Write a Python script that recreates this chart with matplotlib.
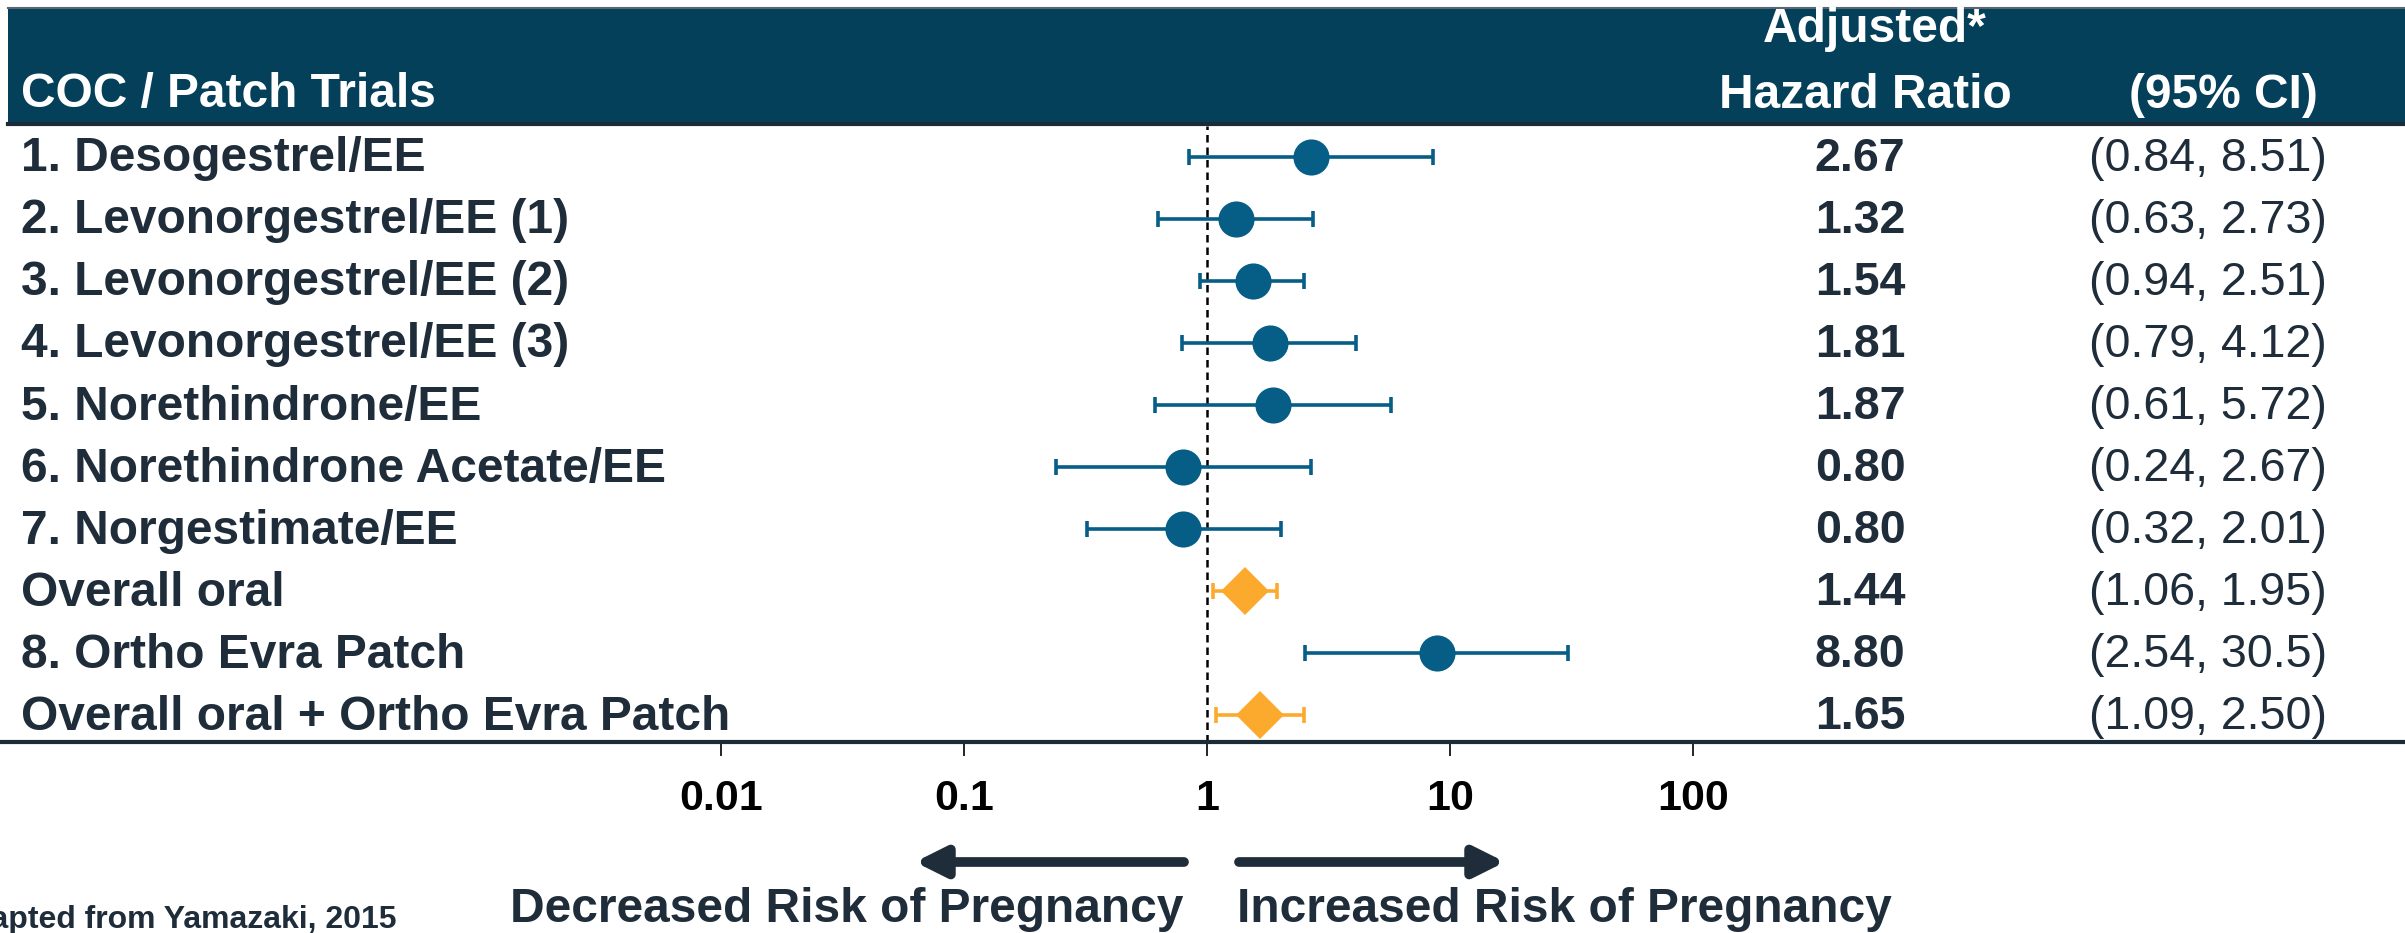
# Forest plot: adjusted hazard ratios of pregnancy, COC / patch trials
import matplotlib
matplotlib.use("Agg")
import matplotlib.pyplot as plt
from matplotlib.patches import Rectangle
from matplotlib.transforms import blended_transform_factory

plt.rcParams['font.family'] = ['Liberation Sans', 'DejaVu Sans']

# data
labels = ["1. Desogestrel/EE", "2. Levonorgestrel/EE (1)", "3. Levonorgestrel/EE (2)",
          "4. Levonorgestrel/EE (3)", "5. Norethindrone/EE", "6. Norethindrone Acetate/EE",
          "7. Norgestimate/EE", "Overall oral", "8. Ortho Evra Patch",
          "Overall oral + Ortho Evra Patch"]
hr = [2.67, 1.32, 1.54, 1.81, 1.87, 0.80, 0.80, 1.44, 8.80, 1.65]
ci_low = [0.84, 0.63, 0.94, 0.79, 0.61, 0.24, 0.32, 1.06, 2.54, 1.09]
ci_high = [8.51, 2.73, 2.51, 4.12, 5.72, 2.67, 2.01, 1.95, 30.5, 2.50]
ci_text = ["(0.84, 8.51)", "(0.63, 2.73)", "(0.94, 2.51)", "(0.79, 4.12)", "(0.61, 5.72)",
           "(0.24, 2.67)", "(0.32, 2.01)", "(1.06, 1.95)", "(2.54, 30.5)", "(1.09, 2.50)"]
is_pooled = [False] * 7 + [True, False, True]
xticks = [0.01, 0.1, 1, 10, 100]
xtick_labels = ["0.01", "0.1", "1", "10", "100"]

BLUE = "#065d85"
ORANGE = "#fbaa2e"
HEADER = "#05405a"
TEXT = "#1f2d3a"

W, H = 2405, 933
fig = plt.figure(figsize=(W / 100, H / 100), dpi=100)

# header band
fig.patches.append(Rectangle((8 / W, 1 - 125 / H), 1, 116 / H, transform=fig.transFigure,
                             facecolor=HEADER, edgecolor="none", zorder=0))
fig.add_artist(plt.Line2D([8 / W, 1], [1 - 8 / H] * 2, transform=fig.transFigure,
                          color="#5a6670", lw=1.5))
fig.add_artist(plt.Line2D([8 / W, 1], [1 - 124 / H] * 2, transform=fig.transFigure,
                          color="#1c2b38", lw=3))

ax = fig.add_axes([0, 1 - 742 / H, 1, (742 - 126) / H])
ax.set_xscale("log")
ax.set_xlim(10 ** (-1207 / 243), 10 ** ((W - 1207) / 243))
ax.set_ylim(9.43, -0.5)
ax.patch.set_alpha(0)

for i in range(len(labels)):
    col = ORANGE if is_pooled[i] else BLUE
    ax.errorbar(hr[i], i, xerr=[[hr[i] - ci_low[i]], [ci_high[i] - hr[i]]],
                fmt="none", ecolor=col, elinewidth=2.6, capsize=6, capthick=2.6, zorder=3)
    if is_pooled[i]:
        ax.plot(hr[i], i, marker="D", color=col, markersize=24, mew=0, zorder=4)
    else:
        ax.plot(hr[i], i, marker="o", color=col, markersize=26, mew=0, zorder=4)

ax.axvline(1, color="black", lw=1.8, ls=(0, (3, 2)), zorder=2)

for s in ["top", "left", "right"]:
    ax.spines[s].set_visible(False)
ax.spines["bottom"].set_color("#1c2b38")
ax.spines["bottom"].set_linewidth(3)
ax.set_yticks([])
ax.set_xticks(xticks)
ax.set_xticklabels(xtick_labels, fontsize=31, fontweight="bold", color="black")
ax.minorticks_off()
ax.tick_params(axis="x", length=10, width=1.2, color="black", pad=17)

# table text
tr = blended_transform_factory(fig.transFigure, ax.transData)
for i, lab in enumerate(labels):
    ax.text(21 / W, i + 0.03, lab, transform=tr, fontsize=34.5, fontweight="bold",
            color=TEXT, va="center", ha="left")
    ax.text(1860 / W, i + 0.03, f"{hr[i]:.2f}", transform=tr, fontsize=33.5,
            fontweight="bold", color=TEXT, va="center", ha="center")
    ax.text(2208 / W, i + 0.03, ci_text[i], transform=tr, fontsize=33.5,
            color=TEXT, va="center", ha="center")

fig.text(21 / W, 1 - 95 / H, "COC / Patch Trials", fontsize=34.5, fontweight="bold",
         color="white", va="center", ha="left")
fig.text(1875 / W, 1 - 30 / H, "Adjusted*", fontsize=34.5, fontweight="bold",
         color="white", va="center", ha="center")
fig.text(1865 / W, 1 - 95 / H, "Hazard Ratio", fontsize=34.5, fontweight="bold",
         color="white", va="center", ha="center")
fig.text(2223 / W, 1 - 95 / H, "(95% CI)", fontsize=34.5, fontweight="bold",
         color="white", va="center", ha="center")

# direction arrows and captions
arrow_kw = dict(arrowstyle="-|>,head_width=0.45,head_length=0.9", lw=7, color=TEXT,
                shrinkA=0, shrinkB=0, mutation_scale=20)
ax.annotate("", xy=(915 / W, 1 - 862 / H), xytext=(1184 / W, 1 - 862 / H),
            xycoords="figure fraction", textcoords="figure fraction", arrowprops=arrow_kw)
ax.annotate("", xy=(1505 / W, 1 - 862 / H), xytext=(1239 / W, 1 - 862 / H),
            xycoords="figure fraction", textcoords="figure fraction", arrowprops=arrow_kw)
fig.text(1183 / W, 1 - 910 / H, "Decreased Risk of Pregnancy", fontsize=34.5,
         fontweight="bold", color=TEXT, va="center", ha="right")
fig.text(1237 / W, 1 - 910 / H, "Increased Risk of Pregnancy", fontsize=34.5,
         fontweight="bold", color=TEXT, va="center", ha="left")
fig.text(396 / W, 1 - 928 / H, "Adapted from Yamazaki, 2015", fontsize=23,
         fontweight="bold", color=TEXT, va="baseline", ha="right")

fig.savefig("out.png", dpi=100, facecolor="white")
